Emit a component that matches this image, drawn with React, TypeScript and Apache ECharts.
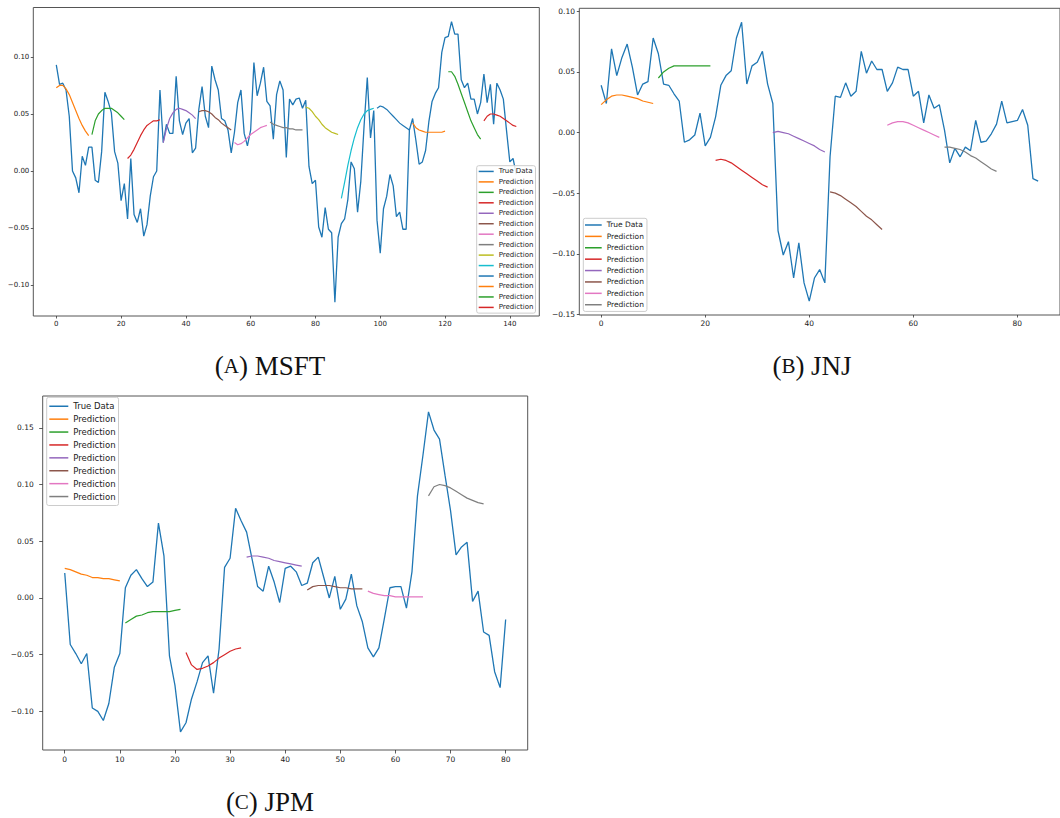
import React, { useEffect, useRef } from "react";
import * as echarts from "echarts";

const colors = ["#1f77b4", "#ff7f0e", "#2ca02c", "#d62728", "#9467bd", "#8c564b", "#e377c2", "#7f7f7f", "#bcbd22", "#17becf"];

const msftTrue = [
  0.093, 0.076, 0.077, 0.071, 0.048, 0.0, -0.006, -0.019, 0.013, 0.005,
  0.021, 0.021, -0.008, -0.01, 0.017, 0.069, 0.061, 0.051, 0.017, 0.007,
  -0.026, -0.011, -0.042, 0.011, -0.038, -0.045, -0.033, -0.057, -0.047, -0.022,
  -0.005, 0.0, 0.071, 0.025, 0.041, 0.033, 0.033, 0.083, 0.044, 0.032,
  0.042, 0.046, 0.016, 0.02, 0.054, 0.074, 0.048, 0.038, 0.092, 0.08,
  0.071, 0.046, 0.044, 0.036, 0.016, 0.034, 0.06, 0.071, 0.033, 0.022,
  0.036, 0.095, 0.066, 0.077, 0.091, 0.061, 0.057, 0.028, 0.067, 0.079,
  0.071, 0.012, 0.063, 0.058, 0.063, 0.064, 0.055, 0.062, 0.004, -0.011,
  -0.008, -0.049, -0.058, -0.032, -0.051, -0.054, -0.115, -0.058, -0.046, -0.042,
  -0.025, 0.008, 0.002, -0.036, -0.009, 0.039, 0.082, 0.029, 0.053, -0.043,
  -0.072, -0.033, -0.022, -0.003, -0.013, -0.04, -0.036, -0.051, -0.051, 0.036,
  0.046, 0.027, 0.006, 0.008, 0.018, 0.043, 0.061, 0.068, 0.073, 0.104,
  0.117, 0.118, 0.131, 0.12, 0.12, 0.08, 0.073, 0.077, 0.063, 0.063,
  0.05, 0.06, 0.085, 0.06, 0.076, 0.041, 0.077, 0.071, 0.063, 0.035,
  0.008, 0.011, -0.003,
];

const msftPred = [
  [0.073, 0.075, 0.075, 0.072, 0.067, 0.06, 0.053, 0.046, 0.04, 0.035, 0.031],
  [0.032, 0.044, 0.05, 0.053, 0.055, 0.055, 0.055, 0.053, 0.051, 0.048, 0.045],
  [0.011, 0.014, 0.019, 0.025, 0.031, 0.036, 0.04, 0.042, 0.044, 0.044, 0.045],
  [0.025, 0.037, 0.046, 0.051, 0.054, 0.055, 0.054, 0.053, 0.051, 0.049, 0.046],
  [0.052, 0.053, 0.053, 0.052, 0.05, 0.047, 0.045, 0.042, 0.04, 0.038, 0.036],
  [0.025, 0.023, 0.024, 0.026, 0.029, 0.032, 0.034, 0.036, 0.038, 0.039, 0.04],
  [0.043, 0.041, 0.04, 0.039, 0.038, 0.038, 0.037, 0.037, 0.036, 0.036, 0.036],
  [0.056, 0.055, 0.052, 0.048, 0.045, 0.041, 0.038, 0.036, 0.034, 0.033, 0.032],
  [-0.024, -0.01, 0.005, 0.018, 0.029, 0.038, 0.045, 0.05, 0.053, 0.054, 0.055],
  [0.055, 0.057, 0.056, 0.054, 0.051, 0.048, 0.045, 0.042, 0.04, 0.038, 0.036],
  [0.042, 0.038, 0.036, 0.035, 0.034, 0.034, 0.034, 0.034, 0.034, 0.034, 0.035],
  [0.087, 0.087, 0.083, 0.076, 0.068, 0.06, 0.052, 0.044, 0.038, 0.032, 0.028],
  [0.044, 0.048, 0.05, 0.05, 0.049, 0.048, 0.046, 0.044, 0.042, 0.04, 0.039],
];

const jnjTrue = [
  0.039, 0.024, 0.069, 0.047, 0.062, 0.073, 0.054, 0.031, 0.04, 0.042,
  0.078, 0.065, 0.04, 0.039, 0.032, 0.026, -0.008, -0.006, -0.002, 0.016,
  -0.011, -0.004, 0.013, 0.039, 0.047, 0.051, 0.078, 0.091, 0.04, 0.055,
  0.058, 0.067, 0.04, 0.024, -0.081, -0.101, -0.09, -0.12, -0.091, -0.124,
  -0.139, -0.12, -0.113, -0.124, -0.02, 0.03, 0.029, 0.041, 0.03, 0.034,
  0.067, 0.049, 0.059, 0.052, 0.052, 0.034, 0.041, 0.054, 0.052, 0.052,
  0.03, 0.034, 0.008, 0.031, 0.02, 0.023, 0.002, -0.025, -0.013, -0.02,
  -0.012, -0.015, 0.01, -0.008, -0.007, -0.001, 0.007, 0.026, 0.008, 0.009,
  0.01, 0.019, 0.006, -0.038, -0.04,
];

const jnjPred = [
  [0.023, 0.027, 0.03, 0.031, 0.031, 0.03, 0.029, 0.028, 0.026, 0.025, 0.024],
  [0.045, 0.05, 0.053, 0.055, 0.055, 0.055, 0.055, 0.055, 0.055, 0.055, 0.055],
  [-0.023, -0.022, -0.023, -0.025, -0.028, -0.031, -0.034, -0.037, -0.04, -0.043, -0.045],
  [0.0, 0.001, 0.0, -0.001, -0.003, -0.005, -0.007, -0.009, -0.011, -0.014, -0.016],
  [-0.049, -0.05, -0.052, -0.055, -0.058, -0.061, -0.065, -0.069, -0.072, -0.076, -0.08],
  [0.006, 0.008, 0.009, 0.009, 0.008, 0.006, 0.004, 0.002, 0.0, -0.002, -0.004],
  [-0.012, -0.012, -0.013, -0.014, -0.016, -0.019, -0.021, -0.024, -0.027, -0.03, -0.032],
];

const jpmTrue = [
  0.022, -0.041, -0.049, -0.058, -0.049, -0.097, -0.1, -0.108, -0.093, -0.061,
  -0.049, 0.009, 0.02, 0.025, 0.017, 0.01, 0.014, 0.066, 0.037, -0.051,
  -0.077, -0.118, -0.11, -0.089, -0.074, -0.057, -0.051, -0.084, -0.045, 0.027,
  0.035, 0.079, 0.068, 0.058, 0.034, 0.01, 0.006, 0.028, 0.014, -0.004,
  0.026, 0.028, 0.023, 0.011, 0.013, 0.031, 0.036, 0.018, 0.0, 0.019,
  -0.01, -0.001, 0.021, -0.007, -0.021, -0.044, -0.052, -0.044, -0.018, 0.009,
  0.01, 0.01, -0.009, 0.023, 0.09, 0.126, 0.164, 0.148, 0.14, 0.108,
  0.077, 0.038, 0.045, 0.049, -0.003, 0.006, -0.03, -0.033, -0.065, -0.079,
  -0.019,
];

const jpmPred = [
  [0.026, 0.025, 0.023, 0.021, 0.02, 0.018, 0.018, 0.017, 0.017, 0.016, 0.015],
  [-0.022, -0.019, -0.016, -0.015, -0.013, -0.012, -0.012, -0.012, -0.012, -0.011, -0.01],
  [-0.048, -0.059, -0.063, -0.062, -0.06, -0.057, -0.053, -0.05, -0.047, -0.045, -0.044],
  [0.036, 0.037, 0.037, 0.036, 0.035, 0.033, 0.032, 0.031, 0.03, 0.029, 0.028],
  [0.007, 0.01, 0.011, 0.011, 0.011, 0.01, 0.009, 0.009, 0.008, 0.008, 0.008],
  [0.006, 0.004, 0.003, 0.002, 0.002, 0.001, 0.001, 0.001, 0.001, 0.001, 0.001],
  [0.09, 0.098, 0.1, 0.099, 0.097, 0.094, 0.091, 0.088, 0.086, 0.084, 0.083],
];

const msftXTicks = [0, 20, 40, 60, 80, 100, 120, 140];
const msftYTicks = [-0.1, -0.05, 0, 0.05, 0.1];
const jnjXTicks = [0, 20, 40, 60, 80];
const jnjYTicks = [-0.15, -0.1, -0.05, 0, 0.05, 0.1];
const jpmXTicks = [0, 10, 20, 30, 40, 50, 60, 70, 80];
const jpmYTicks = [-0.1, -0.05, 0, 0.05, 0.1, 0.15];

const PRED_LEN = 11;
const FONT = "DejaVu Sans";

const predName = (k: number) => "Prediction" + "\u200b".repeat(k + 1);
const stripName = (n: string) => n.replace(/\u200b/g, "");

const yFmt = (v: number) => {
  const s = Math.abs(v).toFixed(2);
  return v < -1e-9 ? "\u2212" + s : s;
};

function buildSeries(trueData: number[], preds: number[][], idx: number) {
  const out: any[] = [];
  out.push({
    type: "line",
    name: "True Data",
    xAxisIndex: idx,
    yAxisIndex: idx,
    data: trueData.map((v, i) => [i, v]),
    showSymbol: false,
    symbol: "none",
    color: colors[0],
    lineStyle: { width: 1.3, color: colors[0] },
    z: 2,
  });
  preds.forEach((p, k) => {
    const c = colors[(k + 1) % 10];
    out.push({
      type: "line",
      name: predName(k),
      xAxisIndex: idx,
      yAxisIndex: idx,
      data: p.map((v, j) => [k * PRED_LEN + j, v]),
      showSymbol: false,
      symbol: "none",
      color: c,
      lineStyle: { width: 1.2, color: c },
      z: 3,
    });
  });
  return out;
}

function xAxis(idx: number, min: number, max: number, ticks: number[], fs: number, margin: number, tickLen: number) {
  return {
    type: "value",
    gridIndex: idx,
    position: "bottom",
    min,
    max,
    axisLine: { show: false, onZero: false },
    splitLine: { show: false },
    axisTick: { show: true, customValues: ticks, length: tickLen, lineStyle: { color: "#333", width: 0.8 } },
    axisLabel: {
      customValues: ticks,
      formatter: (v: number) => String(Math.round(v)),
      fontSize: fs,
      fontFamily: FONT,
      color: "#222",
      margin,
    },
  };
}

function yAxis(idx: number, min: number, max: number, ticks: number[], fs: number, margin: number, tickLen: number) {
  return {
    type: "value",
    gridIndex: idx,
    position: "left",
    min,
    max,
    axisLine: { show: false, onZero: false },
    splitLine: { show: false },
    axisTick: { show: true, customValues: ticks, length: tickLen, lineStyle: { color: "#333", width: 0.8 } },
    axisLabel: {
      customValues: ticks,
      formatter: yFmt,
      fontSize: fs,
      fontFamily: FONT,
      color: "#222",
      margin,
    },
  };
}

function legend(left: number, top: number, n: number, fs: number, lh: number, iw: number, pad: number[]) {
  const data = ["True Data"];
  for (let k = 0; k < n; k++) data.push(predName(k));
  return {
    orient: "vertical",
    left,
    top,
    data,
    formatter: (name: string) => stripName(name),
    icon: "rect",
    itemWidth: iw,
    itemHeight: 1.5,
    itemGap: 0,
    padding: pad,
    backgroundColor: "rgba(255,255,255,0.85)",
    borderColor: "#cccccc",
    borderWidth: 1,
    borderRadius: 2,
    selectedMode: false,
    textStyle: { fontSize: fs, lineHeight: lh, fontFamily: FONT, color: "#222" },
  };
}

function caption(x: number, y: number, letter: string, rest: string) {
  return {
    type: "text",
    x,
    y,
    style: {
      text: "{p|(}{s|" + letter + "}{p|) " + rest + "}",
      align: "center",
      verticalAlign: "middle",
      textAlign: "center",
      textVerticalAlign: "middle",
      rich: {
        p: { fontSize: 27, fontFamily: "Liberation Serif", fill: "#111" },
        s: { fontSize: 21, fontFamily: "Liberation Serif", fill: "#111" },
      },
    },
  };
}

export default function App() {
  const ref = useRef<HTMLDivElement>(null);
  useEffect(() => {
    if (!ref.current) return;
    const chart = echarts.init(ref.current, null, { renderer: "svg" });
    const option: any = {
      animation: false,
      backgroundColor: "#ffffff",
      grid: [
        { left: 33.3, top: 7.5, width: 506, height: 308.5, show: true, borderColor: "#555", borderWidth: 1, backgroundColor: "transparent" },
        { left: 579.3, top: 8.3, width: 492, height: 306.7, show: true, borderColor: "#555", borderWidth: 1, backgroundColor: "transparent" },
        { left: 42.7, top: 396, width: 485, height: 354, show: true, borderColor: "#555", borderWidth: 1, backgroundColor: "transparent" },
      ],
      xAxis: [
        xAxis(0, -7.1, 149.1, msftXTicks, 7, 4.5, 2.5),
        xAxis(1, -4.2, 88.2, jnjXTicks, 7.5, 4.5, 2.5),
        xAxis(2, -4, 84, jpmXTicks, 7.5, 5.3, 3.5),
      ],
      yAxis: [
        yAxis(0, -0.127, 0.1433, msftYTicks, 7, 4, 2.5),
        yAxis(1, -0.1505, 0.1025, jnjYTicks, 7.5, 4.3, 2.5),
        yAxis(2, -0.134, 0.178, jpmYTicks, 7.5, 9, 3.5),
      ],
      legend: [
        legend(476.7, 165.7, msftPred.length, 7, 10.46, 15, [0.5, 2, 0.5, 2]),
        legend(583.3, 218.3, jnjPred.length, 7.5, 11.39, 16.7, [1, 3, 1, 1.7]),
        legend(46.7, 397.3, jpmPred.length, 8.5, 12.9, 19, [2.5, 3, 2.5, 2.6]),
      ],
      series: [
        ...buildSeries(msftTrue, msftPred, 0),
        ...buildSeries(jnjTrue, jnjPred, 1),
        ...buildSeries(jpmTrue, jpmPred, 2),
      ],
      graphic: [
        caption(270, 366, "A", "MSFT"),
        caption(812, 366, "B", "JNJ"),
        caption(270, 802, "C", "JPM"),
      ],
    };
    chart.setOption(option);
    return () => chart.dispose();
  }, []);
  return (
    <div
      ref={ref}
      style={{ position: "absolute", left: 0, top: 0, width: 1060, height: 818, background: "#fff" }}
    />
  );
}
